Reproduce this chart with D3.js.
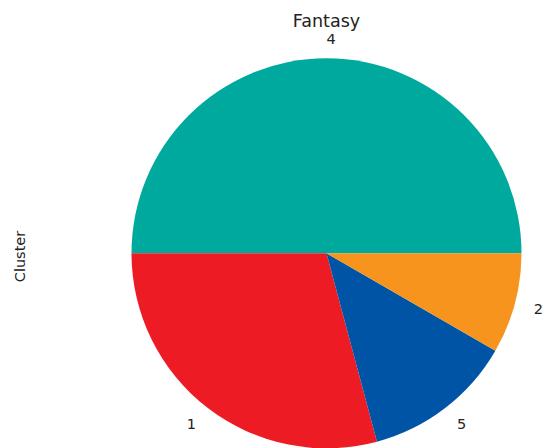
<!DOCTYPE html>
<html>
<head>
<meta charset="utf-8">
<script src="https://cdn.jsdelivr.net/npm/d3@7"></script>
<style>
  html, body { margin: 0; padding: 0; background: #fff; }
  svg { display: block; }
  text { font-family: "DejaVu Sans", sans-serif; fill: #222; }
</style>
</head>
<body>
<svg id="chart" width="543" height="448"></svg>
<script>
// Cluster membership counts for the Fantasy genre
const clusters = ["4", "1", "5", "2"];
const counts = [12, 7, 3, 2];
const colors = ["#00a99d", "#ed1c24", "#0054a6", "#f7941d"];
const title = "Fantasy";
const yLabel = "Cluster";

const svg = d3.select("#chart");
const cx = 326.5, cy = 253.3, r = 195;

const data = clusters.map((c, i) => ({ cluster: c, count: counts[i], color: colors[i] }));

// Start at 3 o'clock and run counter-clockwise
const pie = d3.pie()
  .sort(null)
  .value(d => d.count)
  .startAngle(Math.PI / 2)
  .endAngle(Math.PI / 2 - 2 * Math.PI);

const arc = d3.arc().innerRadius(0).outerRadius(r);
const arcs = pie(data);

const g = svg.append("g").attr("transform", `translate(${cx},${cy})`);

g.selectAll("path.slice")
  .data(arcs)
  .join("path")
  .attr("class", "slice")
  .attr("d", arc)
  .attr("fill", d => d.data.color);

// Slice labels just outside the rim
const labelR = r * 1.1;
g.selectAll("text.lbl")
  .data(arcs)
  .join("text")
  .attr("class", "lbl")
  .each(function(d) {
    const a = (d.startAngle + d.endAngle) / 2;
    const x = Math.sin(a) * labelR;
    const y = -Math.cos(a) * labelR;
    d3.select(this)
      .attr("x", x)
      .attr("y", y)
      .attr("dy", "0.36em")
      .attr("text-anchor", x >= -1e-9 ? "start" : "end");
  })
  .style("font-size", "14.5px")
  .text(d => d.data.cluster);

svg.append("text")
  .attr("x", cx)
  .attr("y", 27)
  .attr("text-anchor", "middle")
  .style("font-size", "17.5px")
  .text(title);

svg.append("text")
  .attr("transform", `translate(25,256.5) rotate(-90)`)
  .attr("text-anchor", "middle")
  .style("font-size", "14.5px")
  .text(yLabel);
</script>
</body>
</html>
